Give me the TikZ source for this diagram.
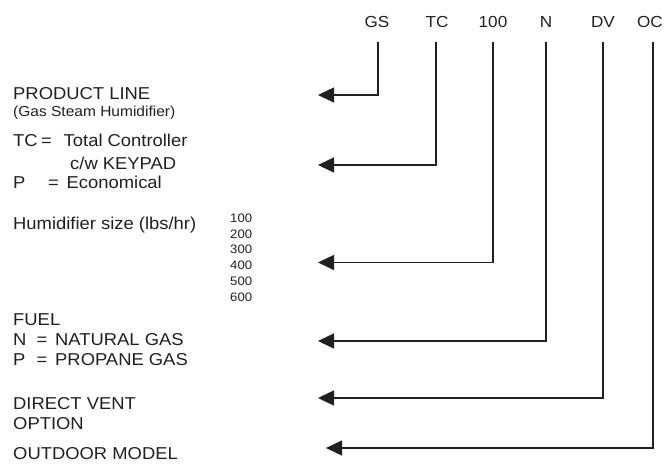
\documentclass[tikz,border=0pt]{standalone}
\usepackage{fontspec}
\setmainfont{Liberation Sans}[FakeStretch=1.07]
\usetikzlibrary{arrows.meta}
\definecolor{ink}{HTML}{231F20}
\begin{document}
\begin{tikzpicture}[x=1pt,y=-1pt,
  lbl/.style={anchor=base west, inner sep=0pt, font=\fontsize{17.2}{19}\selectfont, text=ink},
  small/.style={anchor=base west, inner sep=0pt, font=\fontsize{14.5}{16}\selectfont, text=ink},
  num/.style={anchor=base west, inner sep=0pt, font=\fontsize{12.3}{14}\selectfont, text=ink},
  code/.style={anchor=base, inner sep=0pt, font=\fontsize{16}{18}\selectfont, text=ink},
  conn/.style={draw=ink, line width=1.4pt, -{Triangle[length=16pt,width=15pt]}}]
\useasboundingbox (0,0) rectangle (669,466);

% model code letters
\node[code] (gs)  at (377,27.4) {GS};
\node[code] (tc)  at (437,27.4) {TC};
\node[code] (sz)  at (493,27.4) {100};
\node[code] (fu)  at (546,27.4) {N};
\node[code] (dv)  at (603,27.4) {DV};
\node[code] (oc)  at (650,27.4) {OC};

% left descriptions
\node[lbl] (pl) at (13,99.3) {PRODUCT LINE};
\node[small] (plsub) at (13,116.7) {(Gas Steam Humidifier)};
\node[lbl] (tc1) at (13,146.7) {\rlap{TC}\hspace*{28pt}\rlap{=}\hspace*{22.5pt}Total Controller};
\node[lbl] (tc2) at (70,169) {c/w KEYPAD};
\node[lbl] (tc3) at (13,188.3) {\rlap{P}\hspace*{35pt}\rlap{=}\hspace*{18.5pt}Economical};
\node[lbl] (hs) at (13,229) {Humidifier size (lbs/hr)};
\node[num] (s1) at (230,222.5) {100};
\node[num] (s2) at (230,238.2) {200};
\node[num] (s3) at (230,253.9) {300};
\node[num] (s4) at (230,269.6) {400};
\node[num] (s5) at (230,285.3) {500};
\node[num] (s6) at (230,301.0) {600};
\node[lbl] (f0) at (13,325) {FUEL};
\node[lbl] (f1) at (13,345) {\rlap{N}\hspace*{23.5pt}\rlap{=}\hspace*{18.5pt}NATURAL GAS};
\node[lbl] (f2) at (13,365) {\rlap{P}\hspace*{23.5pt}\rlap{=}\hspace*{18.5pt}PROPANE GAS};
\node[lbl] (dv1) at (13,409.3) {DIRECT VENT};
\node[lbl] (dv2) at (13,429.3) {OPTION};
\node[lbl] (od) at (13,459.3) {OUTDOOR MODEL};

% connector ends
\coordinate (gsTop) at (378,42);  \coordinate (gsTip) at (318,95);
\coordinate (tcTop) at (436,42);  \coordinate (tcTip) at (318,165);
\coordinate (szTop) at (493,42);  \coordinate (szTip) at (318,262.5);
\coordinate (fuTop) at (546,42);  \coordinate (fuTip) at (318,341);
\coordinate (dvTop) at (603,42);  \coordinate (dvTip) at (318,398);
\coordinate (ocTop) at (653,42);  \coordinate (ocTip) at (326,448);

\draw[conn] (gsTop) |- (gsTip);
\draw[conn] (tcTop) |- (tcTip);
\draw[conn] (szTop) |- (szTip);
\draw[conn] (fuTop) |- (fuTip);
\draw[conn] (dvTop) |- (dvTip);
\draw[conn] (ocTop) |- (ocTip);
\end{tikzpicture}
\end{document}
